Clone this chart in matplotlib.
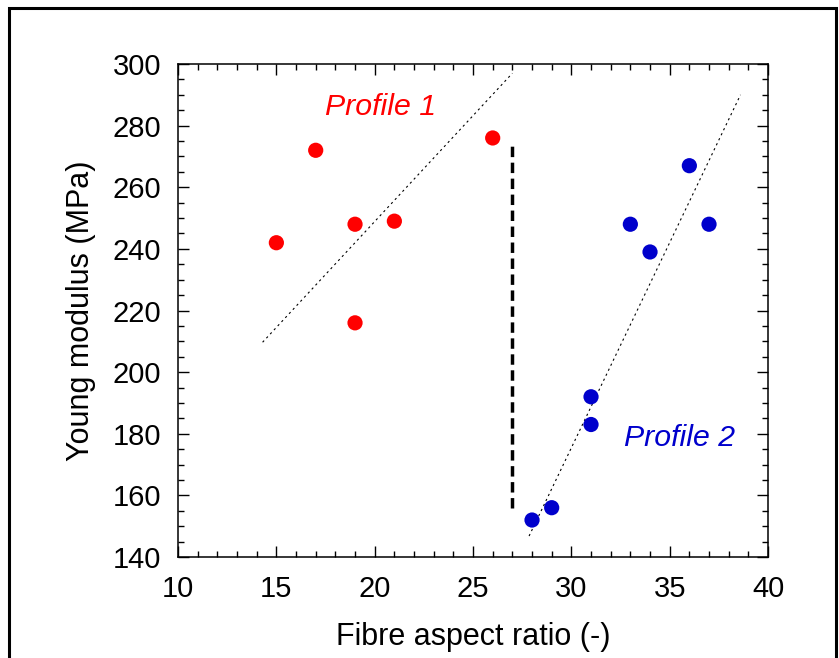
import matplotlib.pyplot as plt
from matplotlib.patches import Rectangle
from matplotlib.ticker import MultipleLocator

# profile 1 (red) and profile 2 (blue) measurements
p1_ratio = [15, 17, 19, 19, 21, 26]
p1_modulus = [242, 272, 248, 216, 249, 276]
p2_ratio = [28, 29, 31, 31, 33, 34, 36, 37]
p2_modulus = [152, 156, 192, 183, 248, 239, 267, 248]

# trend lines (end points) and separator
p1_trend_x = [14.3, 27.0]
p1_trend_y = [209.7, 297.0]
p2_trend_x = [27.85, 38.6]
p2_trend_y = [146.8, 290.0]
sep_x = [27.0, 27.0]
sep_y = [156, 274]

plt.rcParams['font.family'] = ['Liberation Sans', 'DejaVu Sans']

fig = plt.figure(figsize=(8.39, 6.58), dpi=100)
ax = fig.add_axes([0.2122, 0.1535, 0.7032, 0.7492])

ax.plot(p1_trend_x, p1_trend_y, color='black', lw=0.8, dashes=(2, 3))
ax.plot(p2_trend_x, p2_trend_y, color='black', lw=0.8, dashes=(2, 3))
ax.plot(sep_x, sep_y, color='black', lw=2.5, dashes=(3, 1.6))

ax.scatter(p1_ratio, p1_modulus, s=120, color='#ff0000', edgecolors='none', zorder=3)
ax.scatter(p2_ratio, p2_modulus, s=120, color='#0000cc', edgecolors='none', zorder=3)

ax.text(20.3, 286, 'Profile 1', color='#ff0000', fontsize=21.8, style='italic',
        ha='center', va='center')
ax.text(35.5, 178.6, 'Profile 2', color='#0000cc', fontsize=21.8, style='italic',
        ha='center', va='center')

ax.set_xlim(10, 40)
ax.set_ylim(140, 300)
ax.xaxis.set_major_locator(MultipleLocator(5))
ax.xaxis.set_minor_locator(MultipleLocator(1))
ax.yaxis.set_major_locator(MultipleLocator(20))
ax.yaxis.set_minor_locator(MultipleLocator(5))
ax.tick_params(which='both', direction='in', top=True, right=True, width=1, labelsize=21)
ax.tick_params(which='major', length=8)
ax.tick_params(which='minor', length=4)
ax.tick_params(axis='x', which='major', pad=13)
ax.tick_params(axis='y', which='major', pad=12)
for sp in ax.spines.values():
    sp.set_linewidth(1.1)

ax.set_xlabel('Fibre aspect ratio (-)', fontsize=22, labelpad=14)
ax.set_ylabel('Young modulus (MPa)', fontsize=22, labelpad=12)

# outer frame
fig.patches.append(Rectangle((0.011, -0.02), 0.985, 1.008, transform=fig.transFigure,
                             fill=False, edgecolor='black', lw=2.2, clip_on=False))

fig.savefig('out.png', dpi=100)
